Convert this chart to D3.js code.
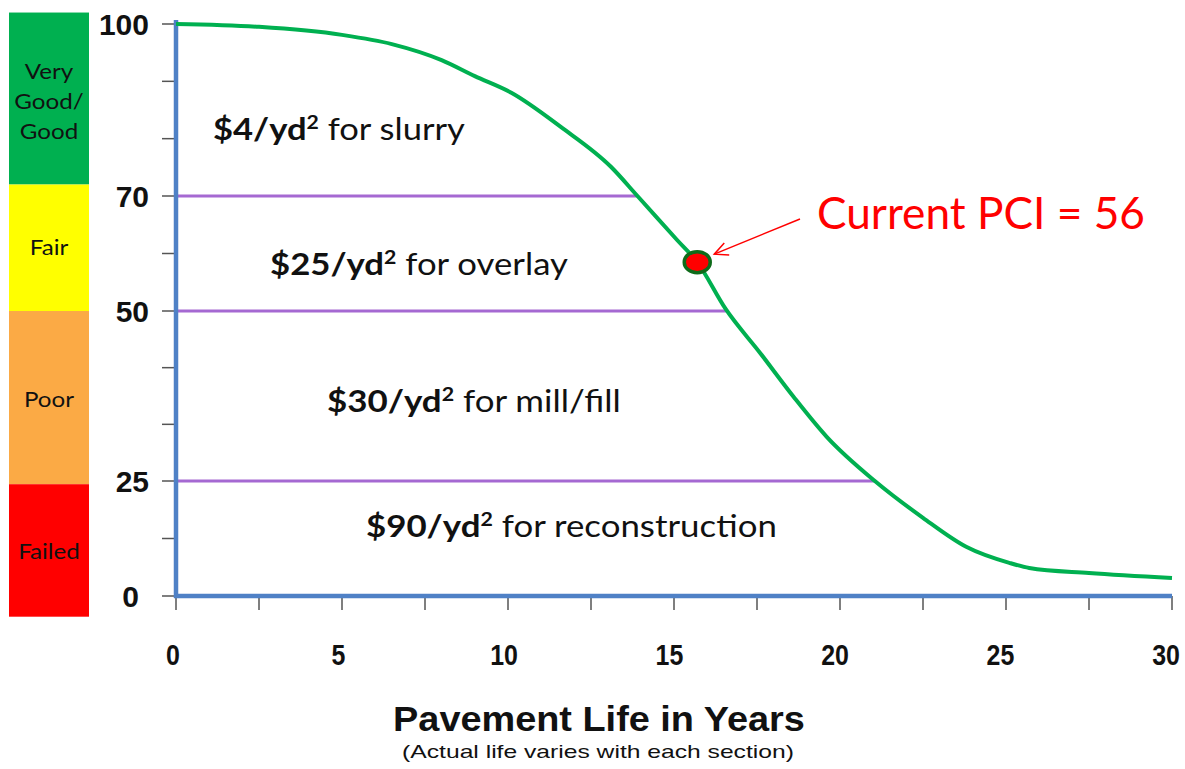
<!DOCTYPE html>
<html>
<head>
<meta charset="utf-8">
<title>Pavement life curve</title>
<script src="https://d3js.org/d3.v7.min.js"></script>
<style>
  body { margin: 0; background: #fff; }
</style>
</head>
<body>
<div id="chart"></div>
<script>
// curve
var years = [0, 2.5, 5, 6.5, 8.0, 9.0, 10.1, 11.6, 13.1, 13.9, 15.1, 15.7, 16.55, 17.6, 18.6, 19.6, 21.05, 22.5, 23.8, 25.1, 25.7, 27.5, 30];
var pci = [100, 99.5, 98.1, 96.5, 93.7, 90.9, 88.0, 82.0, 75.1, 70, 62.3, 58.5, 50.4, 43.8, 37.4, 31.5, 25, 17, 10.7, 7.2, 6.1, 5.0, 3.9];

// y axis is piecewise: labelled values sit on uneven tick steps
var yLabels = [0, 25, 50, 70, 100];
var yTicks = [0, 12.5, 25, 25 + 25 / 3, 25 + 50 / 3, 50, 60, 70, 80, 90, 100];
var xTicks = [0, 2.5, 5, 7.5, 10, 12.5, 15, 17.5, 20, 22.5, 25, 27.5, 30];
var xLabels = [0, 5, 10, 15, 20, 25, 30];

// condition bands
var bandNames = [["Very", "Good/", "Good"], ["Fair"], ["Poor"], ["Failed"]];
var bandColors = ["#00B050", "#FFFF00", "#FBAA45", "#FF0000"];
var bandTop = [102, 72, 50, 24.3];
var bandBottom = [72, 50, 24.3, -4.5];

// treatment thresholds and where they meet the curve
var thresholds = [70, 50, 25];
var thresholdEnd = [13.9, 16.6, 21.05];
var costBold = ["$4/yd", "$25/yd", "$30/yd", "$90/yd"];
var costRest = [" for slurry", " for overlay", " for mill/fill", " for reconstruction"];

var currentYear = 15.7;
var currentPci = 58.5;
var currentLabel = "Current PCI = 56";

var W = 1185, H = 769;
var svg = d3.select("#chart").append("svg")
  .attr("width", W).attr("height", H)
  .style("font-family", "'Liberation Sans', Arial, sans-serif");

var x = d3.scaleLinear().domain([0, 30]).range([176, 1172]);
var xLab = d3.scaleLinear().domain([0, 30]).range([173, 1166]);
var y = d3.scaleLinear().domain([0, 25, 50, 70, 100]).range([596, 481, 311, 196, 24]);

// stretch a text horizontally about its anchor to a target width (or by a factor)
function stretch(t, w, factor) {
  var bb = t.node().getBBox();
  var anchor = t.attr("text-anchor") || "start";
  var ax = anchor == "middle" ? bb.x + bb.width / 2 : anchor == "end" ? bb.x + bb.width : bb.x;
  var s = factor || w / bb.width;
  t.attr("transform", "translate(" + ax + ",0) scale(" + s + ",1) translate(" + (-ax) + ",0)");
}

// bands on the left
var bands = svg.append("g");
var bandOff = [10, 7.5, 9, 9];
bandColors.forEach(function (c, i) {
  var t = y(bandTop[i]), b = y(bandBottom[i]);
  bands.append("rect")
    .attr("x", 9).attr("y", t)
    .attr("width", 80).attr("height", b - t)
    .attr("fill", c);
  var n = bandNames[i].length, lh = 30;
  var cy = (t + b) / 2 + bandOff[i];
  bandNames[i].forEach(function (s, j) {
    var tx = bands.append("text")
      .attr("x", 49)
      .attr("y", cy + (j - (n - 1) / 2) * lh)
      .attr("text-anchor", "middle")
      .style("font-family", "Lato, 'Open Sans', sans-serif")
      .style("font-size", "21px")
      .attr("fill", "#111")
      .text(s);
    stretch(tx, 0, 1.15);
  });
});

// y ticks
svg.append("g").selectAll("line").data(yTicks).join("line")
  .attr("x1", 162).attr("x2", 176)
  .attr("y1", function (d) { return y(d); })
  .attr("y2", function (d) { return y(d); })
  .attr("stroke", "#555").attr("stroke-width", 1.5);

svg.append("g").selectAll("text").data(yLabels).join("text")
  .attr("x", function (d) { return d == 0 ? 139 : 149; })
  .attr("y", function (d) { return y(d); })
  .attr("dy", "0.36em")
  .attr("text-anchor", "end")
  .style("font-size", "30px")
  .style("font-weight", "bold")
  .attr("fill", "#111")
  .text(function (d) { return d; });

// x ticks
svg.append("g").selectAll("line").data(xTicks).join("line")
  .attr("x1", function (d) { return x(d); })
  .attr("x2", function (d) { return x(d); })
  .attr("y1", 596).attr("y2", 610)
  .attr("stroke", "#555").attr("stroke-width", 1.5);

svg.append("g").selectAll("text").data(xLabels).join("text")
  .attr("x", function (d) { return xLab(d); })
  .attr("y", 665)
  .attr("text-anchor", "middle")
  .style("font-size", "29px")
  .style("font-weight", "bold")
  .attr("fill", "#111")
  .text(function (d) { return d; })
  .each(function () { stretch(d3.select(this), 0, 0.86); });

// threshold lines
svg.append("g").selectAll("line").data(thresholds).join("line")
  .attr("x1", x(0))
  .attr("x2", function (d, i) { return x(thresholdEnd[i]); })
  .attr("y1", function (d) { return y(d); })
  .attr("y2", function (d) { return y(d); })
  .attr("stroke", "#A569D2").attr("stroke-width", 3);

// axes
svg.append("line")
  .attr("x1", x(0)).attr("x2", x(0))
  .attr("y1", 20).attr("y2", y(0) + 2)
  .attr("stroke", "#4F81C6").attr("stroke-width", 4.5);
svg.append("line")
  .attr("x1", x(0) - 2).attr("x2", x(30))
  .attr("y1", y(0)).attr("y2", y(0))
  .attr("stroke", "#4F81C6").attr("stroke-width", 4.5);

// deterioration curve
var pts = years.map(function (d, i) { return [d, pci[i]]; });
var line = d3.line()
  .x(function (d) { return x(d[0]); })
  .y(function (d) { return y(d[1]); })
  .curve(d3.curveMonotoneX);
svg.append("path")
  .datum(pts)
  .attr("d", line)
  .attr("fill", "none")
  .attr("stroke", "#00B050")
  .attr("stroke-width", 4);

// cost labels
var costPos = [[213, 140], [270, 275], [327, 412], [366, 537]];
var costWidth = [252, 298, 294, 411];
costBold.forEach(function (s, i) {
  var t = svg.append("text")
    .attr("x", costPos[i][0]).attr("y", costPos[i][1])
    .style("font-family", "Lato, 'Open Sans', sans-serif")
    .style("font-size", "31px")
    .attr("fill", "#111");
  t.append("tspan").style("font-weight", "bold").text(s);
  t.append("tspan").style("font-weight", "bold").style("font-size", "19px")
    .attr("dy", -11).text("2");
  t.append("tspan").attr("dy", 11).text(costRest[i]);
  stretch(t, costWidth[i]);
});

// current point + annotation
var cx = x(currentYear), cy = y(currentPci);
svg.append("ellipse")
  .attr("cx", cx).attr("cy", cy)
  .attr("rx", 13).attr("ry", 10.5)
  .attr("fill", "#FF0000")
  .attr("stroke", "#0E6B1A").attr("stroke-width", 3.5);

var ax0 = 800, ay0 = 219, ax1 = cx + 17, ay1 = cy - 8;
svg.append("line")
  .attr("x1", ax0).attr("y1", ay0).attr("x2", ax1).attr("y2", ay1)
  .attr("stroke", "#FF0000").attr("stroke-width", 1.5);
var ang = Math.atan2(ay0 - ay1, ax0 - ax1), hl = 15;
svg.append("path")
  .attr("d", "M" + (ax1 + hl * Math.cos(ang - 0.45)) + "," + (ay1 + hl * Math.sin(ang - 0.45)) +
    "L" + ax1 + "," + ay1 +
    "L" + (ax1 + hl * Math.cos(ang + 0.45)) + "," + (ay1 + hl * Math.sin(ang + 0.45)))
  .attr("fill", "none")
  .attr("stroke", "#FF0000").attr("stroke-width", 1.5);

var pciText = svg.append("text")
  .attr("x", 817).attr("y", 229)
  .style("font-family", "Lato, 'Open Sans', sans-serif")
  .style("font-size", "44px")
  .attr("fill", "#FF0000")
  .text(currentLabel);
stretch(pciText, 328);

// titles
var title = svg.append("text")
  .attr("x", 599).attr("y", 731)
  .attr("text-anchor", "middle")
  .style("font-size", "35px")
  .style("font-weight", "bold")
  .attr("fill", "#111")
  .text("Pavement Life in Years");
stretch(title, 412);
var sub = svg.append("text")
  .attr("x", 598).attr("y", 758)
  .attr("text-anchor", "middle")
  .style("font-size", "19px")
  .attr("fill", "#111")
  .text("(Actual life varies with each section)");
stretch(sub, 392);
</script>
</body>
</html>
